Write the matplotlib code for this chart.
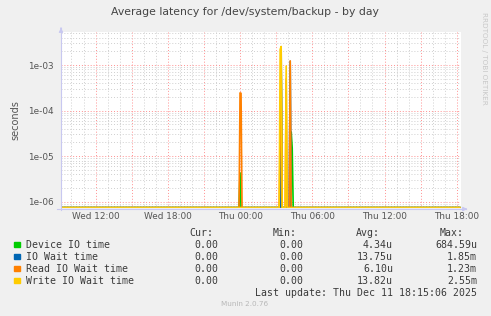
import numpy as np
import matplotlib
matplotlib.use('Agg')
import matplotlib.pyplot as plt
from matplotlib.patches import Rectangle

# Данные (часы относительно Thu 00:00)
t_start = -14.87
t_end = 18.25

device_t = [t_start, -0.083, 0.0, 0.083, 3.333, 3.417, 3.5, 4.167, 4.25, 4.333, 4.417, t_end]
device_v = [0, 0, 4.3e-6, 0, 0, 6.85e-4, 0, 0, 3.4e-5, 1.5e-5, 0, 0]

iowait_t = [t_start, 3.333, 3.417, 3.5, 4.083, 4.167, 4.25, t_end]
iowait_v = [0, 0, 1.85e-3, 0, 0, 1.2e-3, 0, 0]

read_t = [t_start, -0.083, 0.0, 0.083, 0.167, 3.25, 3.417, 3.5, 3.75, 3.833, 3.917,
          4.083, 4.167, 4.25, t_end]
read_v = [0, 0, 2.45e-4, 2.4e-4, 0, 0, 8.5e-4, 0, 0, 5e-4, 0, 0, 1.23e-3, 0, 0]

write_t = [t_start, 3.25, 3.333, 3.417, 3.5, 3.75, 3.833, 3.917, t_end]
write_v = [0, 0, 2.2e-3, 2.55e-3, 0, 0, 9.5e-4, 0, 0]

names = ['Device IO time', 'IO Wait time', 'Read IO Wait time', 'Write IO Wait time']
colors = ['#00CC00', '#0066B3', '#FF8000', '#FFCC00']
cur = ['0.00', '0.00', '0.00', '0.00']
mins = ['0.00', '0.00', '0.00', '0.00']
avgs = ['4.34u', '13.75u', '6.10u', '13.82u']
maxs = ['684.59u', '1.85m', '1.23m', '2.55m']

tick_hours = [-12, -6, 0, 6, 12, 18]
tick_labels = ['Wed 12:00', 'Wed 18:00', 'Thu 00:00', 'Thu 06:00', 'Thu 12:00', 'Thu 18:00']

W, H = 491, 316
ymin, ymax = 7.3e-7, 5.3e-3


def px(x, y):
    return x / W, 1 - y / H


fig = plt.figure(figsize=(W / 100, H / 100), dpi=100, facecolor='#F0F0F0')
ax = fig.add_axes([61 / W, 1 - 208 / H, 400 / W, (208 - 32) / H])
ax.set_facecolor('white')
ax.set_yscale('log')
ax.set_xlim(t_start, t_start + 400 / 12.04)
ax.set_ylim(ymin, ymax)

# сетка
for h in range(-14, 19):
    c = '#FF9090' if h % 3 == 0 else '#CFCFCF'
    ax.axvline(h, color=c, lw=0.7, ls=(0, (1, 2)), zorder=1)
for d in range(-7, -2):
    ax.axhline(10.0 ** d, color='#FF9090', lw=0.7, ls=(0, (1, 2)), zorder=1)
    for k in range(2, 10):
        ax.axhline(k * 10.0 ** d, color='#CFCFCF', lw=0.7, ls=(0, (1, 2)), zorder=1)

for tt, vv, c in zip([device_t, iowait_t, read_t, write_t],
                     [device_v, iowait_v, read_v, write_v], colors):
    v = np.clip(np.array(vv, dtype=float), ymin * 1.02, None)
    ax.plot(tt, v, color=c, lw=1.2, zorder=3)
# линия нулей у нижнего края
ax.axhline(ymin * 1.02, color='#E0C070', lw=1.0, zorder=4)

for s in ax.spines.values():
    s.set_visible(False)
ax.tick_params(which='both', length=0)
ax.set_xticks(tick_hours)
ax.set_xticklabels(tick_labels, fontsize=6.4, color='#555555')
ax.set_yticks([1e-6, 1e-5, 1e-4, 1e-3])
ax.set_yticklabels(['1e-06', '1e-05', '1e-04', '1e-03'], fontsize=6.4, color='#555555')
ax.yaxis.set_minor_locator(matplotlib.ticker.NullLocator())
ax.tick_params(axis='x', pad=3)
ax.tick_params(axis='y', pad=5)
ax.set_ylabel('seconds', fontsize=7, color='#555555', labelpad=6)

# оси со стрелками
axc = '#C8C8F0'
fig.add_artist(plt.Line2D([61 / W, 61 / W], [1 - 210 / H, 1 - 28 / H], color=axc, lw=0.8))
fig.add_artist(plt.Line2D([57 / W, 466 / W], [1 - 209 / H, 1 - 209 / H], color=axc, lw=0.8))
ax.annotate('', xy=px(61, 25), xytext=px(61, 31), xycoords='figure fraction',
            arrowprops=dict(arrowstyle='-|>', color=axc, lw=0.8, mutation_scale=6))
ax.annotate('', xy=px(470, 209), xytext=px(463, 209), xycoords='figure fraction',
            arrowprops=dict(arrowstyle='-|>', color=axc, lw=0.8, mutation_scale=6))

fig.text(*px(245, 12), 'Average latency for /dev/system/backup - by day',
         ha='center', va='center', fontsize=7.8, color='#454545')
fig.text(*px(484, 58), 'RRDTOOL / TOBI OETIKER', rotation=270, ha='center', va='center',
         fontsize=5.2, color='#C8C8C8')

# легенда
mono = dict(family='DejaVu Sans Mono', fontsize=7.1, color='#3A3A3A', va='center')
fig.text(*px(213, 233), 'Cur:', ha='right', **mono)
fig.text(*px(297, 233), 'Min:', ha='right', **mono)
fig.text(*px(380, 233), 'Avg:', ha='right', **mono)
fig.text(*px(464, 233), 'Max:', ha='right', **mono)
rows = [244.5, 256.5, 268.5, 280.5]
for i, y in enumerate(rows):
    fig.add_artist(Rectangle(px(14, y + 2.7), 5.5 / W, 5.5 / H, color=colors[i],
                             transform=fig.transFigure))
    fig.text(*px(26, y), names[i], ha='left', **mono)
    fig.text(*px(218, y), cur[i], ha='right', **mono)
    fig.text(*px(303, y), mins[i], ha='right', **mono)
    fig.text(*px(393, y), avgs[i], ha='right', **mono)
    fig.text(*px(477, y), maxs[i], ha='right', **mono)
fig.text(*px(477, 292.5), 'Last update: Thu Dec 11 18:15:06 2025', ha='right', **mono)
fig.text(*px(245, 304), 'Munin 2.0.76', ha='center', va='center', fontsize=5.2, color='#B8B8B8')

fig.savefig('out.png', dpi=100, facecolor=fig.get_facecolor())
